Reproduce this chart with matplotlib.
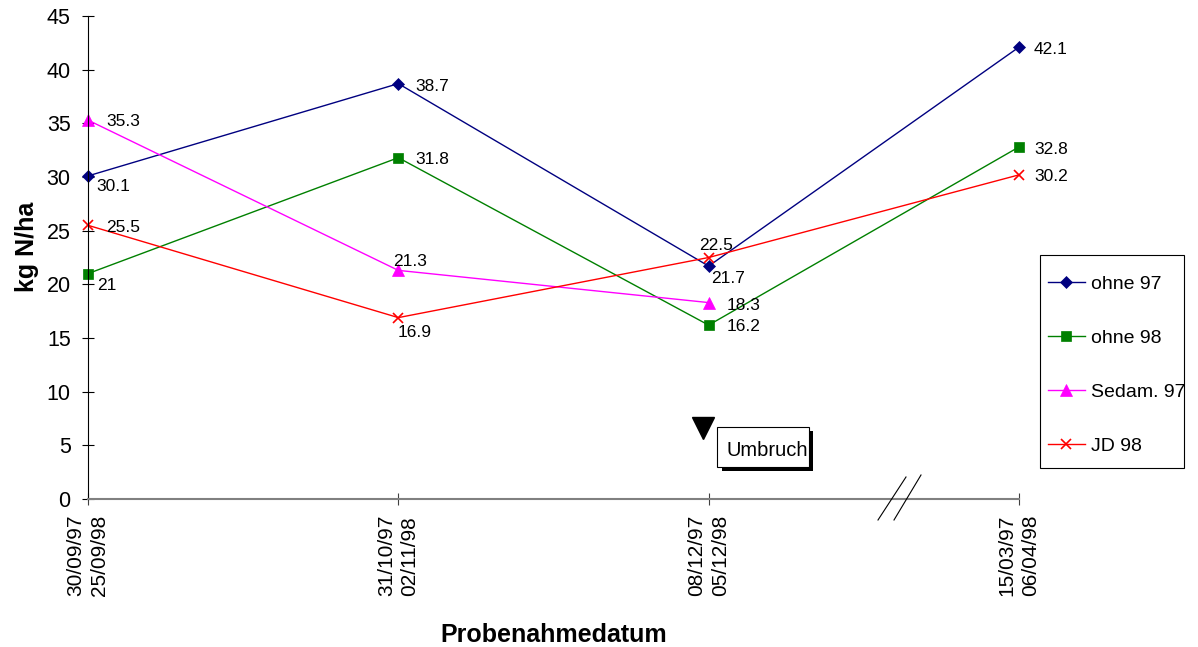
import numpy as np
import matplotlib.pyplot as plt
from matplotlib.lines import Line2D
from matplotlib.patches import Rectangle
from matplotlib.transforms import Bbox, TransformedBbox

plt.rcParams['font.family'] = ['Liberation Sans', 'DejaVu Sans']

dates = ["30/09/97\n25/09/98", "31/10/97\n02/11/98", "08/12/97\n05/12/98", "15/03/97\n06/04/98"]
ohne97 = [30.1, 38.7, 21.7, 42.1]
ohne98 = [21, 31.8, 16.2, 32.8]
sedam97 = [35.3, 21.3, 18.3]
jd98 = [25.5, 16.9, 22.5, 30.2]

W, H = 1198, 647
def fx(px):
    return px / W
def fy(py):
    return 1 - py / H

fig = plt.figure(figsize=(11.98, 6.47), dpi=100)
ax = fig.add_axes([fx(88), fy(499), (1019-88)/W, 483/H])

x = np.arange(len(dates))
series = [
    ("ohne 97", ohne97, "#000080", "D", 6),
    ("ohne 98", ohne98, "#008000", "s", 6.5),
    ("Sedam. 97", sedam97, "#ff00ff", "^", 8),
    ("JD 98", jd98, "#ff0000", "x", 7),
]
handles = []
for name, vals, col, mk, ms in series:
    xs = x[:len(vals)]
    h, = ax.plot(xs, vals, color=col, marker=mk, markersize=ms, lw=1.0,
                 markeredgewidth=1.2 if mk == "x" else 0.5, label=name, clip_on=False)
    handles.append(h)

# label offsets in pixels (dx, dy up)
offs = {
    "ohne 97": [(8, -11), (17, -3), (2, -12), (15, -2)],
    "ohne 98": [(9, -12), (17, -2), (18, -1), (15, -3)],
    "Sedam. 97": [(18, -1), (-5, 9), (18, -3)],
    "JD 98": [(18, -2), (-1, -15), (-10, 12), (15, -2)],
}
for name, vals, col, mk, ms in series:
    for i, v in enumerate(vals):
        dx, dy = offs[name][i]
        lab = "%g" % v
        ax.annotate(lab, (x[i], v), xytext=(dx, dy), textcoords="offset pixels",
                    fontsize=12.5, ha="left", va="center")

ax.set_xlim(0, 3)
ax.set_ylim(0, 45)
ax.set_yticks(np.arange(0, 46, 5))
ax.set_xticks(x)
ax.set_xticklabels(dates, rotation=90, fontsize=15, linespacing=1.3)
ax.tick_params(axis="y", labelsize=15.5, direction="inout", length=9, width=0.8, pad=8)
ax.tick_params(axis="x", direction="inout", length=9, width=0.8, color="#404040", pad=7)
for s in ["top", "right"]:
    ax.spines[s].set_visible(False)
ax.spines["bottom"].set_color("#808080")
ax.spines["bottom"].set_linewidth(1.5)
ax.spines["left"].set_linewidth(0.8)

ax.set_ylabel("kg N/ha", fontsize=18, fontweight="bold")
ax.yaxis.set_label_coords(-0.053, 0.522)
ax.set_xlabel("Probenahmedatum", fontsize=18, fontweight="bold", labelpad=19)

# axis break marks
fig.add_artist(Line2D([fx(878), fx(906)], [fy(520), fy(477)], color="black", lw=0.8))
fig.add_artist(Line2D([fx(894), fx(921)], [fy(520), fy(475)], color="black", lw=0.8))

# Umbruch marker and box
ax.plot([1.982], [6.6], marker="v", color="black", markersize=16, clip_on=False)
fig.add_artist(Rectangle((fx(722), fy(471)), 91/W, 40/H, transform=fig.transFigure,
                         facecolor="black", edgecolor="none"))
fig.add_artist(Rectangle((fx(717), fy(467)), 92/W, 40/H, transform=fig.transFigure,
                         facecolor="white", edgecolor="black", lw=0.8))
t = fig.text(fx(726), fy(450), "Umbruch", fontsize=14.5, va="center", ha="left")
t.set_clip_box(TransformedBbox(Bbox([[fx(717), fy(467)], [fx(809), fy(427)]]), fig.transFigure))
t.set_clip_on(True)

# legend with manual frame
fig.add_artist(Rectangle((fx(1040), fy(468)), 144/W, 213/H, transform=fig.transFigure,
                         facecolor="white", edgecolor="black", lw=0.8))
leg = fig.legend(handles=handles, loc="upper left", bbox_to_anchor=(fx(1048), fy(275)),
                 fontsize=14, frameon=False, labelspacing=1.88, handlelength=1.9,
                 handletextpad=0.3, borderpad=0, borderaxespad=0)

fig.savefig("out.png", dpi=100)
